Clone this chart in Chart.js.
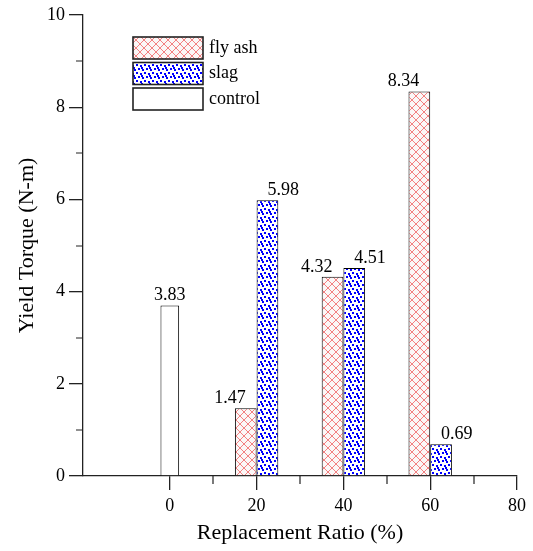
<!DOCTYPE html>
<html>
<head>
<meta charset="utf-8">
<script src="https://cdn.jsdelivr.net/npm/chart.js@4/dist/chart.umd.min.js"></script>
<style>
  html, body { margin: 0; padding: 0; background: #fff; }
  #wrap { width: 533px; height: 551px; }
</style>
</head>
<body>
<div id="wrap"><canvas id="chart"></canvas></div>
<script>
// replacement ratios (%) and yield torque (N-m) per mix
const RATIOS = [20, 40, 60]
const FLY_ASH = [1.47, 4.32, 8.34]
const SLAG = [5.98, 4.51, 0.69]
const FLY_ASH_TEXT = ['1.47', '4.32', '8.34']
const SLAG_TEXT = ['5.98', '4.51', '0.69']

const CONTROL_RATIO = [0]
const CONTROL = [3.7]          // bar as drawn in the figure
const CONTROL_TEXT = ['3.83']  // printed value

const X_TICKS = [0, 20, 40, 60, 80]
const X_MINOR = [10, 30, 50, 70]
const Y_TICKS = [0, 2, 4, 6, 8, 10]
const Y_MINOR = [1, 3, 5, 7, 9]

const SERIF = '"Liberation Serif", "DejaVu Serif", serif'

// pink cross hatch for fly ash
function hatchPattern() {
  const c = document.createElement('canvas')
  c.width = c.height = 8
  const g = c.getContext('2d')
  g.fillStyle = '#fbf7f7'
  g.fillRect(0, 0, 8, 8)
  g.strokeStyle = 'rgba(240,90,90,0.75)'
  g.lineWidth = 1
  g.beginPath()
  g.moveTo(0, 0); g.lineTo(8, 8)
  g.moveTo(8, 0); g.lineTo(0, 8)
  g.stroke()
  return g.createPattern(c, 'repeat')
}

// blue dots for slag
function dotPattern() {
  const c = document.createElement('canvas')
  c.width = c.height = 8
  const g = c.getContext('2d')
  g.fillStyle = '#fff'
  g.fillRect(0, 0, 8, 8)
  g.fillStyle = '#0000ff'
  ;[[0, 0], [4, 1], [2, 4], [6, 5], [5, 3]].forEach(([x, y]) => g.fillRect(x, y, 2, 2))
  return g.createPattern(c, 'repeat')
}

const toPoints = (xs, ys) => xs.map((x, i) => ({ x, y: ys[i] }))

// number printed over each bar
const valueLabels = {
  id: 'valueLabels',
  afterDatasetsDraw(chart) {
    const ctx = chart.ctx
    ctx.save()
    ctx.font = '18px ' + SERIF
    ctx.fillStyle = '#000'
    ctx.textBaseline = 'bottom'
    chart.data.datasets.forEach((ds, i) => {
      ctx.textAlign = ds.textAlign
      chart.getDatasetMeta(i).data.forEach((bar, j) => {
        ctx.fillText(ds.valueText[j], bar.x, bar.y - 1)
      })
    })
    ctx.restore()
  },
}

// minor tick marks + legend inside the plot
const extras = {
  id: 'extras',
  afterDraw(chart) {
    const { ctx, chartArea: a, scales: { x, y } } = chart
    ctx.save()
    ctx.strokeStyle = '#222'
    ctx.lineWidth = 1.2
    ctx.beginPath()
    X_MINOR.forEach(v => {
      const px = Math.round(x.getPixelForValue(v))
      ctx.moveTo(px, a.bottom); ctx.lineTo(px, a.bottom + 8)
    })
    Y_MINOR.forEach(v => {
      const py = Math.round(y.getPixelForValue(v))
      ctx.moveTo(a.left, py); ctx.lineTo(a.left - 7, py)
    })
    ctx.stroke()

    // legend
    ctx.font = '18px ' + SERIF
    ctx.textBaseline = 'middle'
    ctx.textAlign = 'left'
    chart.data.datasets.forEach((ds, i) => {
      const bx = a.left + 50, by = a.top + 22 + i * 25.5
      ctx.fillStyle = ds.backgroundColor
      ctx.fillRect(bx, by, 70, 22)
      ctx.strokeStyle = '#222'
      ctx.lineWidth = 1.6
      ctx.strokeRect(bx, by, 70, 22)
      ctx.fillStyle = '#000'
      ctx.fillText(ds.label, bx + 76, by + 11)
    })
    ctx.restore()
  },
}

const axisLine = { display: true, color: '#222', width: 1.3 }
const tickMarks = { display: true, drawOnChartArea: false, drawTicks: true, tickLength: 14, color: '#222', lineWidth: 1.3, offset: false }

new Chart(document.getElementById('chart'), {
  type: 'bar',
  data: {
    datasets: [
      {
        label: 'fly ash',
        data: toPoints(RATIOS, FLY_ASH),
        valueText: FLY_ASH_TEXT,
        textAlign: 'right',
        backgroundColor: hatchPattern(),
        borderColor: '#000',
        borderWidth: 1,
        categoryPercentage: 0.5,
        barPercentage: 1,
      },
      {
        label: 'slag',
        data: toPoints(RATIOS, SLAG),
        valueText: SLAG_TEXT,
        textAlign: 'left',
        backgroundColor: dotPattern(),
        borderColor: '#000',
        borderWidth: 1,
        categoryPercentage: 0.5,
        barPercentage: 1,
      },
      {
        label: 'control',
        data: toPoints(CONTROL_RATIO, CONTROL),
        valueText: CONTROL_TEXT,
        textAlign: 'center',
        backgroundColor: '#fff',
        borderColor: '#000',
        borderWidth: 1,
        grouped: false,
        categoryPercentage: 0.215,
        barPercentage: 1,
      },
    ],
  },
  options: {
    responsive: true,
    maintainAspectRatio: false,
    animation: false,
    layout: { padding: { top: 15, right: 16, left: 0, bottom: 0 } },
    plugins: { legend: { display: false }, tooltip: { enabled: false } },
    scales: {
      x: {
        type: 'linear',
        min: -20,
        max: 80,
        offset: false,
        afterBuildTicks: s => { s.ticks = X_TICKS.map(value => ({ value })) },
        afterFit: s => { s.height = 75 },
        border: axisLine,
        grid: tickMarks,
        ticks: { color: '#000', font: { family: SERIF, size: 18 }, padding: 5, maxRotation: 0 },
        title: { display: true, text: 'Replacement Ratio (%)', color: '#000', font: { family: SERIF, size: 22 }, padding: { top: 0, bottom: 5 } },
      },
      y: {
        min: 0,
        max: 10,
        afterBuildTicks: s => { s.ticks = Y_TICKS.map(value => ({ value })) },
        afterFit: s => { s.width = 83 },
        border: axisLine,
        grid: tickMarks,
        ticks: { color: '#000', font: { family: SERIF, size: 18 }, padding: 4 },
        title: { display: true, text: 'Yield Torque (N-m)', color: '#000', font: { family: SERIF, size: 22 }, padding: { top: 14, bottom: 0 } },
      },
    },
  },
  plugins: [valueLabels, extras],
})
</script>
</body>
</html>
